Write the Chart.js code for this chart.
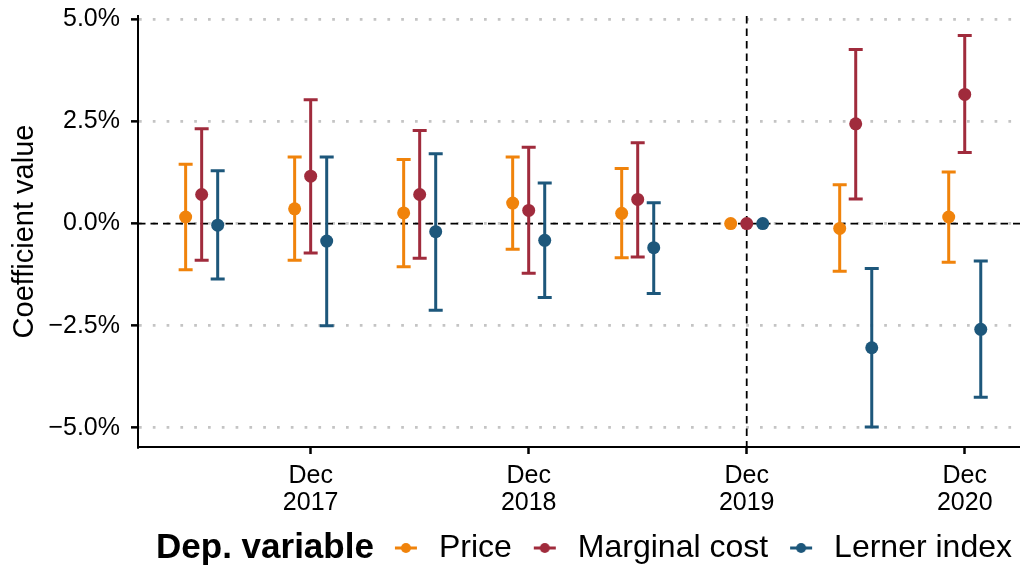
<!DOCTYPE html>
<html>
<head>
<meta charset="utf-8">
<script src="https://cdn.jsdelivr.net/npm/chart.js@4.4.1/dist/chart.umd.min.js"></script>
<style>
  html, body { margin: 0; padding: 0; background: #fff; }
</style>
</head>
<body>
<canvas id="myChart" width="1020" height="569"></canvas>
<script>
// half-year periods on the x axis
var periods = ["Jun 2017", "Dec 2017", "Jun 2018", "Dec 2018", "Jun 2019", "Dec 2019", "Jun 2020", "Dec 2020"];
var tickPeriods = ["Dec 2017", "Dec 2018", "Dec 2019", "Dec 2020"];
var eventPeriod = "Dec 2019";
var yTicks = [-5, -2.5, 0, 2.5, 5];

// coefficients in %, with lower / upper confidence bounds
var priceEst  = [0.16, 0.36, 0.26, 0.50, 0.25, 0, -0.12, 0.16];
var priceLow  = [-1.13, -0.90, -1.06, -0.63, -0.84, 0, -1.17, -0.95];
var priceHigh = [1.45, 1.63, 1.57, 1.63, 1.35, 0, 0.95, 1.26];

var mcEst  = [0.71, 1.16, 0.71, 0.32, 0.59, 0, 2.44, 3.16];
var mcLow  = [-0.90, -0.72, -0.85, -1.22, -0.82, 0, 0.60, 1.74];
var mcHigh = [2.32, 3.03, 2.28, 1.87, 1.98, 0, 4.26, 4.60];

var lernerEst  = [-0.04, -0.43, -0.20, -0.41, -0.59, 0, -3.04, -2.59];
var lernerLow  = [-1.36, -2.50, -2.12, -1.81, -1.71, 0, -4.98, -4.25];
var lernerHigh = [1.29, 1.63, 1.71, 0.99, 0.51, 0, -1.10, -0.92];

var seriesNames = ["Price", "Marginal cost", "Lerner index"];
var legendTitle = "Dep. variable";

var colors = ["#F0830B", "#A02B3C", "#1D577B"];
var dodge = [-0.147, 0, 0.147];
var fontFamily = "'Liberation Sans', Arial, sans-serif";
var legendSize = 32;

function buildData(est, low, high, k) {
    return est.map(function (v, i) {
        return { x: i + 1 + dodge[k], y: v, lo: low[i], hi: high[i] };
    });
}

function legendGlyph(color) {
    var c = document.createElement("canvas");
    c.width = 24; c.height = 12;
    var g = c.getContext("2d");
    g.strokeStyle = color; g.lineWidth = 3;
    g.beginPath(); g.moveTo(1, 6); g.lineTo(23, 6); g.stroke();
    g.fillStyle = color;
    g.beginPath(); g.arc(12, 6, 5, 0, Math.PI * 2); g.fill();
    return c;
}
var glyphs = colors.map(legendGlyph);

var allSeries = [[priceEst, priceLow, priceHigh], [mcEst, mcLow, mcHigh], [lernerEst, lernerLow, lernerHigh]];

var datasets = allSeries.map(function (s, k) {
    return {
        label: seriesNames[k],
        data: buildData(s[0], s[1], s[2], k),
        backgroundColor: colors[k],
        borderColor: colors[k],
        borderWidth: 0,
        pointRadius: 6.5,
        pointHoverRadius: 6.5,
    };
});

// error bars + reference lines, drawn under the points
var errorBars = {
    id: "errorBars",
    beforeDatasetsDraw: function (chart) {
        var ctx = chart.ctx, x = chart.scales.x, y = chart.scales.y, area = chart.chartArea;
        ctx.save();
        ctx.strokeStyle = "#000";
        ctx.lineWidth = 1.8;
        ctx.setLineDash([7.5, 5]);
        ctx.beginPath();
        var y0 = y.getPixelForValue(0);
        ctx.moveTo(area.left, y0); ctx.lineTo(area.right, y0);
        var xe = x.getPixelForValue(periods.indexOf(eventPeriod) + 1);
        ctx.moveTo(xe, area.top); ctx.lineTo(xe, area.bottom);
        ctx.stroke();
        ctx.setLineDash([]);
        chart.data.datasets.forEach(function (ds) {
            ctx.strokeStyle = ds.borderColor;
            ctx.lineWidth = 3;
            ds.data.forEach(function (p) {
                if (p.lo === p.hi) return;
                var px = x.getPixelForValue(p.x), pl = y.getPixelForValue(p.lo), ph = y.getPixelForValue(p.hi);
                ctx.beginPath();
                ctx.moveTo(px, pl); ctx.lineTo(px, ph);
                ctx.moveTo(px - 7, pl); ctx.lineTo(px + 7, pl);
                ctx.moveTo(px - 7, ph); ctx.lineTo(px + 7, ph);
                ctx.stroke();
            });
        });
        ctx.restore();
    },
    afterLayout: function (chart) {
        chart.legend.top += 5;
        chart.legend.bottom += 5;
        chart.legend.left += 8;
        chart.legend.right += 8;
    },
    afterDraw: function (chart) {
        var lg = chart.legend;
        var ctx = chart.ctx;
        // first legend item starts right after the title
        var firstX = lg.right - lg.lineWidths[0];
        ctx.save();
        ctx.font = "bold 35px " + fontFamily;
        ctx.fillStyle = "#000";
        ctx.textAlign = "right";
        ctx.textBaseline = "middle";
        ctx.fillText(legendTitle, firstX - 15, lg.top + lg.options.labels.padding + legendSize / 2);
        ctx.restore();
    },
};

var ctx = document.getElementById("myChart").getContext("2d");
var myChart = new Chart(ctx, {
    type: "scatter",
    data: { datasets: datasets },
    plugins: [errorBars],
    options: {
        responsive: false,
        animation: false,
        devicePixelRatio: 1,
        layout: { autoPadding: false, padding: { top: 16, left: 0, right: 0, bottom: 0 } },
        plugins: {
            tooltip: { enabled: false },
            legend: {
                position: "bottom",
                align: "end",
                labels: {
                    usePointStyle: true,
                    pointStyleWidth: 34,
                    padding: 16,
                    color: "#000",
                    font: { family: fontFamily, size: legendSize },
                    generateLabels: function (chart) {
                        var items = Chart.defaults.plugins.legend.labels.generateLabels(chart);
                        items.forEach(function (it, i) { it.pointStyle = glyphs[i]; });
                        return items;
                    },
                },
            },
        },
        scales: {
            x: {
                type: "linear",
                min: 0.416,
                max: 8.507,
                afterBuildTicks: function (s) {
                    s.ticks = tickPeriods.map(function (p) { return { value: periods.indexOf(p) + 1 }; });
                },
                afterFit: function (s) {
                    s.height = 569 - 447 - s.chart.legend.height;
                    s.paddingLeft = 0; s.paddingRight = 0;
                },
                ticks: {
                    color: "#000",
                    padding: 8,
                    maxRotation: 0,
                    autoSkip: false,
                    font: { family: fontFamily, size: 25, lineHeight: 1.09 },
                    callback: function (v) { return periods[Math.round(v) - 1].split(" "); },
                },
                grid: { drawOnChartArea: false, drawTicks: true, tickLength: 7, tickWidth: 2.5, tickColor: "#000" },
                border: { color: "#000", width: 2 },
            },
            y: {
                min: -5.47,
                max: 5.08,
                afterBuildTicks: function (s) {
                    s.ticks = yTicks.map(function (v) { return { value: v }; });
                },
                afterFit: function (s) {
                    s.width = 138;
                    s.paddingTop = 0; s.paddingBottom = 0;
                },
                title: {
                    display: true,
                    text: "Coefficient value",
                    color: "#000",
                    padding: { top: 8, bottom: 0 },
                    font: { family: fontFamily, size: 29 },
                },
                ticks: {
                    color: "#000",
                    padding: 11,
                    font: { family: fontFamily, size: 25 },
                    callback: function (v) { return (v < 0 ? "\u2212" : "") + Math.abs(v).toFixed(1) + "%"; },
                },
                grid: { color: "#c4c4c4", lineWidth: 2.7, tickLength: 7, tickWidth: 2.5, tickColor: "#000" },
                border: { color: "#000", width: 2, dash: [2.7, 11.1] },
            },
        },
    },
});
</script>
</body>
</html>
